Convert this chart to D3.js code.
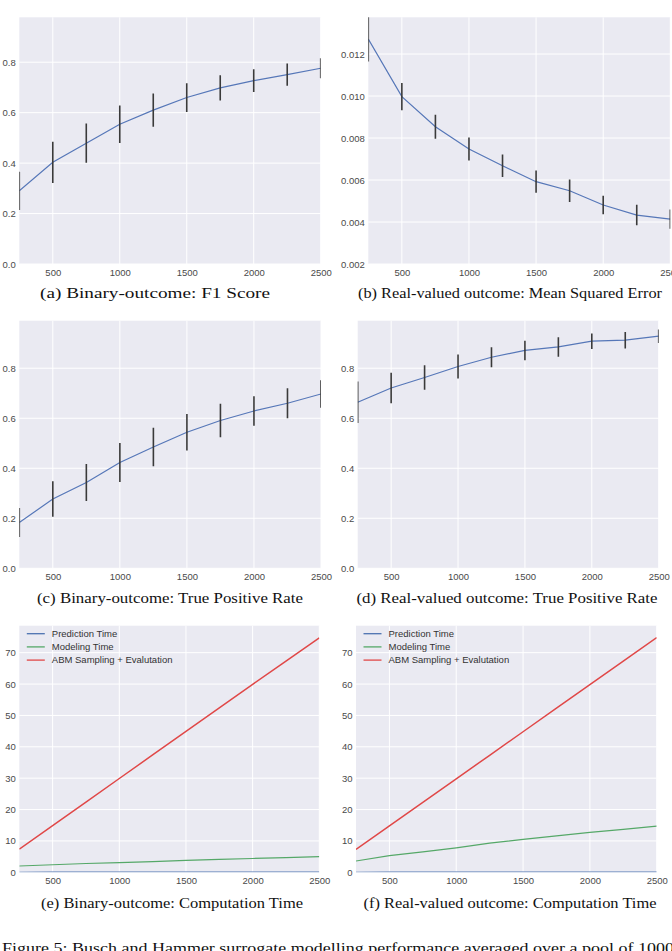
<!DOCTYPE html>
<html>
<head>
<meta charset="utf-8">
<script src="https://cdn.jsdelivr.net/npm/d3@7"></script>
<style>
  body { margin: 0; background: #fff; }
  svg { display: block; }
  .tick-label { font-family: "Liberation Sans", Arial, sans-serif; font-size: 9.5px; fill: #4a4a4a; }
  .caption { font-family: "Liberation Serif", "DejaVu Serif", serif; font-size: 15px; fill: #111; }
  .legend-text { font-family: "Liberation Sans", Arial, sans-serif; font-size: 9.5px; fill: #333; }
</style>
</head>
<body>
<div class="figure"></div>
<script>
// values
var sampleSizes = [250, 500, 750, 1000, 1250, 1500, 1750, 2000, 2250, 2500];
var xTicks = [500, 1000, 1500, 2000, 2500];

var f1Mean = [0.29, 0.403, 0.479, 0.554, 0.61, 0.66, 0.698, 0.727, 0.751, 0.776];
var f1Err = [0.076, 0.082, 0.078, 0.074, 0.066, 0.057, 0.05, 0.045, 0.044, 0.04];

var mseMean = [0.01271, 0.00997, 0.00854, 0.00748, 0.00668, 0.00592, 0.00549, 0.00481, 0.00433, 0.00414];
var mseErr = [0.00107, 0.00065, 0.00057, 0.00055, 0.00054, 0.00053, 0.00054, 0.00044, 0.00049, 0.00046];

var tprBinMean = [0.183, 0.277, 0.343, 0.423, 0.485, 0.544, 0.591, 0.629, 0.66, 0.697];
var tprBinErr = [0.058, 0.071, 0.074, 0.078, 0.077, 0.073, 0.067, 0.059, 0.06, 0.055];

var tprRealMean = [0.664, 0.721, 0.763, 0.807, 0.844, 0.871, 0.885, 0.908, 0.912, 0.928];
var tprRealErr = [0.083, 0.061, 0.049, 0.048, 0.04, 0.039, 0.039, 0.031, 0.033, 0.027];

var predTimeBin = [0.02, 0.03, 0.03, 0.04, 0.05, 0.05, 0.06, 0.07, 0.07, 0.08];
var modelTimeBin = [2.0, 2.4, 2.8, 3.1, 3.4, 3.8, 4.1, 4.4, 4.7, 5.0];
var abmTimeBin = [7.4, 14.9, 22.4, 29.9, 37.4, 44.9, 52.4, 59.9, 67.3, 74.7];

var predTimeReal = [0.02, 0.03, 0.04, 0.04, 0.05, 0.06, 0.06, 0.07, 0.08, 0.08];
var modelTimeReal = [3.6, 5.3, 6.5, 7.8, 9.3, 10.5, 11.6, 12.7, 13.7, 14.7];
var abmTimeReal = [7.3, 14.8, 22.3, 29.8, 37.3, 44.8, 52.3, 59.8, 67.3, 74.8];

var scoreTicks = [0.0, 0.2, 0.4, 0.6, 0.8];
var mseTicks = [0.002, 0.004, 0.006, 0.008, 0.010, 0.012];
var timeTicks = [0, 10, 20, 30, 40, 50, 60, 70];

var timeSeriesNames = ["Prediction Time", "Modeling Time", "ABM Sampling + Evalutation"];
var timeColors = ["#4C72B0", "#55A868", "#E04848"];

var figureCaption = "Figure 5: Busch and Hammer surrogate modelling performance averaged over a pool of 1000";

var svgWidth = 672;
var svgHeight = 951;

var svg = d3.select(".figure")
  .append("svg")
  .attr("width", svgWidth)
  .attr("height", svgHeight);

var panels = [
  { id: "a", box: [19.3, 320.7, 17.3, 264], yDomain: [0, 0.978], yTicks: scoreTicks, fmt: ".1f",
    mean: f1Mean, err: f1Err, caption: "(a) Binary-outcome: F1 Score", capX: 155, capY: 298, capW: 230 },
  { id: "b", box: [368.3, 670.3, 17.3, 264], yDomain: [0.002, 0.01375], yTicks: mseTicks, fmt: ".3f",
    mean: mseMean, err: mseErr, caption: "(b) Real-valued outcome: Mean Squared Error", capX: 510, capY: 298, capW: 304 },
  { id: "c", box: [19.3, 321, 320.7, 568.3], yDomain: [0, 0.99], yTicks: scoreTicks, fmt: ".1f",
    mean: tprBinMean, err: tprBinErr, caption: "(c) Binary-outcome: True Positive Rate", capX: 170, capY: 603, capW: 266 },
  { id: "d", box: [357.7, 658.7, 320.7, 568.3], yDomain: [0, 0.99], yTicks: scoreTicks, fmt: ".1f",
    mean: tprRealMean, err: tprRealErr, caption: "(d) Real-valued outcome: True Positive Rate", capX: 507, capY: 603, capW: 301 },
  { id: "e", box: [19.3, 319.3, 625.7, 872.3], yDomain: [0, 78.6], yTicks: timeTicks, fmt: "d",
    series: [predTimeBin, modelTimeBin, abmTimeBin], caption: "(e) Binary-outcome: Computation Time", capX: 172, capY: 908, capW: 262 },
  { id: "f", box: [356, 656.7, 625.7, 872.3], yDomain: [0, 78.6], yTicks: timeTicks, fmt: "d",
    series: [predTimeReal, modelTimeReal, abmTimeReal], caption: "(f) Real-valued outcome: Computation Time", capX: 510, capY: 908, capW: 293 }
];

panels.forEach(function(p) {
  var left = p.box[0], right = p.box[1], top = p.box[2], bottom = p.box[3];

  var x = d3.scaleLinear().domain([250, 2500]).range([left, right]);
  var y = d3.scaleLinear().domain(p.yDomain).range([bottom, top]);

  var g = svg.append("g");

  // clip so edge error bars are cut in half like matplotlib
  g.append("clipPath").attr("id", "clip-" + p.id)
    .append("rect")
    .attr("x", left).attr("y", top)
    .attr("width", right - left).attr("height", bottom - top);

  g.append("rect")
    .attr("x", left).attr("y", top)
    .attr("width", right - left).attr("height", bottom - top)
    .attr("fill", "#EAEAF2");

  // grid
  g.selectAll(".vgrid").data(xTicks).enter().append("line")
    .attr("x1", d => x(d)).attr("x2", d => x(d))
    .attr("y1", top).attr("y2", bottom)
    .attr("stroke", "#fff").attr("stroke-width", 1);
  g.selectAll(".hgrid").data(p.yTicks).enter().append("line")
    .attr("x1", left).attr("x2", right)
    .attr("y1", d => y(d)).attr("y2", d => y(d))
    .attr("stroke", "#fff").attr("stroke-width", 1);

  // axes (ticks hidden, labels only)
  var bottomAxis = d3.axisBottom(x).tickValues(xTicks).tickSize(0).tickPadding(3).tickFormat(d3.format("d"));
  var leftAxis = d3.axisLeft(y).tickValues(p.yTicks).tickSize(0).tickPadding(3.5).tickFormat(d3.format(p.fmt));

  var xa = g.append("g").attr("transform", `translate(0, ${bottom})`).call(bottomAxis);
  var ya = g.append("g").attr("transform", `translate(${left}, 0)`).call(leftAxis);
  [xa, ya].forEach(function(a) {
    a.select(".domain").remove();
    a.selectAll("text").attr("class", "tick-label").attr("fill", null).attr("font-size", null).attr("font-family", null);
  });
  xa.selectAll("text").attr("dy", "0.9em");

  var plot = g.append("g").attr("clip-path", "url(#clip-" + p.id + ")");

  if (p.mean) {
    var pts = sampleSizes.map((s, i) => ({ s: s, m: p.mean[i], e: p.err[i] }));
    plot.append("path")
      .datum(pts)
      .attr("fill", "none")
      .attr("stroke", "#5677B8")
      .attr("stroke-width", 1.2)
      .attr("d", d3.line().x(d => x(d.s)).y(d => y(d.m)));
    plot.selectAll(".err").data(pts).enter().append("line")
      .attr("x1", d => x(d.s)).attr("x2", d => x(d.s))
      .attr("y1", d => y(d.m - d.e)).attr("y2", d => y(d.m + d.e))
      .attr("stroke", "#3a3a3a")
      .attr("stroke-width", 1.6);
  } else {
    p.series.forEach(function(vals, k) {
      plot.append("path")
        .datum(vals)
        .attr("fill", "none")
        .attr("stroke", timeColors[k])
        .attr("stroke-width", k === 2 ? 1.5 : 1.2)
        .attr("d", d3.line().x((d, i) => x(sampleSizes[i])).y(d => y(d)));
    });

    var legend = g.append("g").attr("transform", `translate(${left + 7.5}, ${top + 8})`);
    timeSeriesNames.forEach(function(name, k) {
      legend.append("line")
        .attr("x1", 0).attr("x2", 18)
        .attr("y1", k * 13.2).attr("y2", k * 13.2)
        .attr("stroke", timeColors[k]).attr("stroke-width", 1.3);
      legend.append("text")
        .attr("class", "legend-text")
        .attr("x", 25).attr("y", k * 13.2)
        .attr("dy", "0.35em")
        .text(name);
    });
  }

  svg.append("text")
    .attr("class", "caption")
    .attr("x", p.capX)
    .attr("y", p.capY)
    .attr("text-anchor", "middle")
    .attr("textLength", p.capW)
    .attr("lengthAdjust", "spacingAndGlyphs")
    .text(p.caption);
});

svg.append("text")
  .attr("class", "caption")
  .attr("x", 2)
  .attr("y", 953)
  .attr("font-size", "16px")
  .attr("textLength", 672)
  .attr("lengthAdjust", "spacingAndGlyphs")
  .text(figureCaption);
</script>
</body>
</html>
